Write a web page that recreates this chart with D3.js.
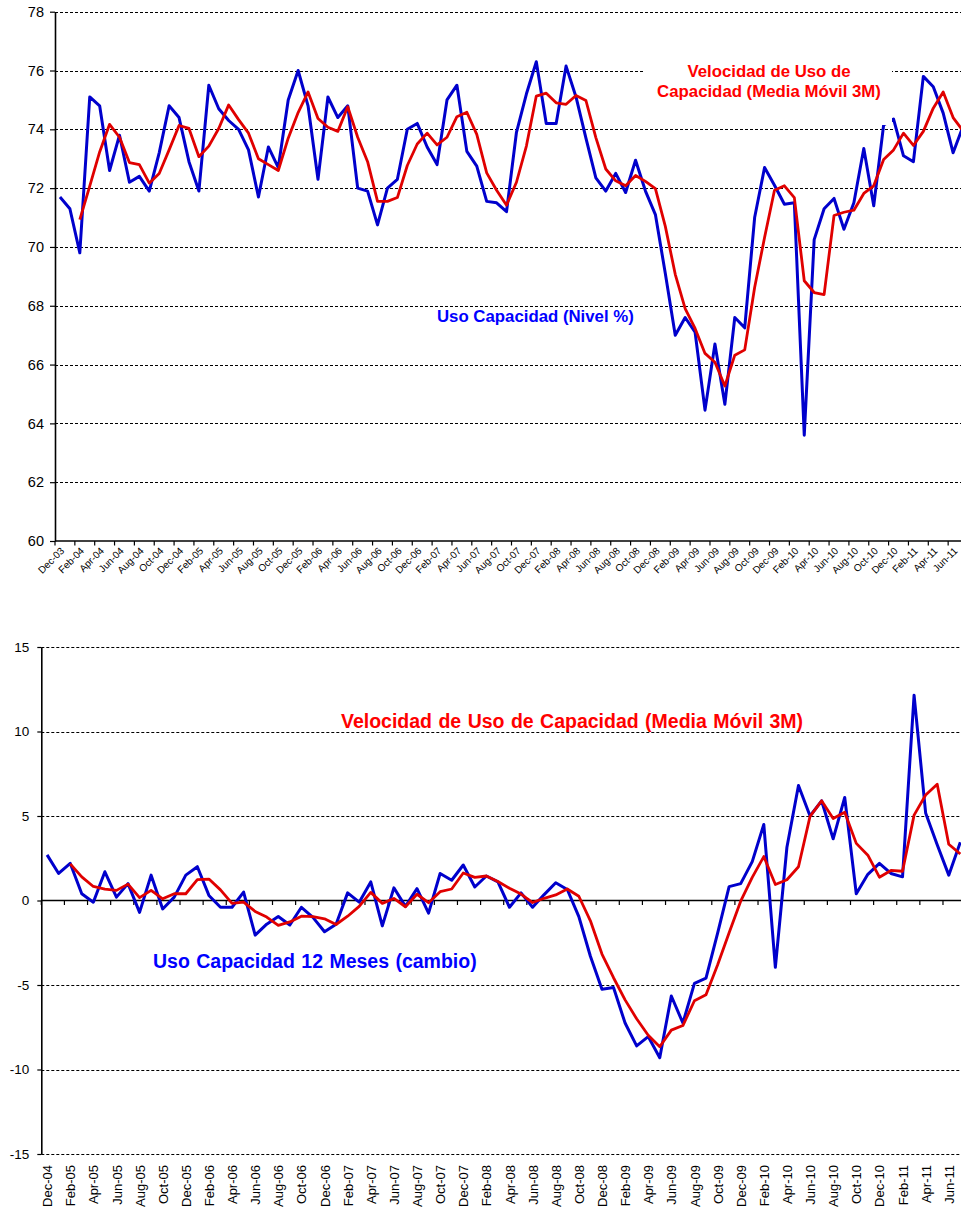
<!DOCTYPE html>
<html>
<head>
<meta charset="utf-8">
<script src="https://cdn.jsdelivr.net/npm/d3@7"></script>
<style>
  html, body { margin: 0; padding: 0; background: #fff; }
  svg { display: block; }
</style>
</head>
<body>
<svg id="chart" width="961" height="1208"></svg>
<script>
// ---------- DATA ----------
const months = [
  "Dec-03",
  "Jan-04","Feb-04","Mar-04","Apr-04","May-04","Jun-04","Jul-04","Aug-04","Sep-04","Oct-04","Nov-04","Dec-04",
  "Jan-05","Feb-05","Mar-05","Apr-05","May-05","Jun-05","Jul-05","Aug-05","Sep-05","Oct-05","Nov-05","Dec-05",
  "Jan-06","Feb-06","Mar-06","Apr-06","May-06","Jun-06","Jul-06","Aug-06","Sep-06","Oct-06","Nov-06","Dec-06",
  "Jan-07","Feb-07","Mar-07","Apr-07","May-07","Jun-07","Jul-07","Aug-07","Sep-07","Oct-07","Nov-07","Dec-07",
  "Jan-08","Feb-08","Mar-08","Apr-08","May-08","Jun-08","Jul-08","Aug-08","Sep-08","Oct-08","Nov-08","Dec-08",
  "Jan-09","Feb-09","Mar-09","Apr-09","May-09","Jun-09","Jul-09","Aug-09","Sep-09","Oct-09","Nov-09","Dec-09",
  "Jan-10","Feb-10","Mar-10","Apr-10","May-10","Jun-10","Jul-10","Aug-10","Sep-10","Oct-10","Nov-10","Dec-10",
  "Jan-11","Feb-11","Mar-11","Apr-11","May-11","Jun-11","Jul-11"
];

// Top panel: capacity use level (%) and its 3-month moving average
const levelValues = [
  71.7, 71.3, 69.8, 75.1, 74.8, 72.6, 73.8, 72.2, 72.4, 71.9, 73.2, 74.8,
  74.4, 72.9, 71.9, 75.5, 74.7, 74.3, 74.0, 73.3, 71.7, 73.4, 72.7, 75.0,
  76.0, 74.8, 72.3, 75.1, 74.4, 74.8, 72.0, 71.9, 70.75, 72.0, 72.3, 74.0,
  74.2, 73.4, 72.8, 75.0, 75.5, 73.25, 72.75, 71.55, 71.5, 71.2, 73.9, 75.2,
  76.3, 74.2, 74.2, 76.15, 75.1, 73.7, 72.35, 71.9, 72.5, 71.85, 72.95, 71.9,
  71.1, 69.1, 67.0, 67.6, 67.1, 64.45, 66.7, 64.65, 67.6, 67.25, 71.0, 72.7,
  72.1, 71.45, 71.5, 63.6, 70.25, 71.3, 71.65, 70.6, 71.5, 73.35, 71.4, 74.15,
  74.35, 73.1, 72.9, 75.8, 75.45, 74.55, 73.2, 74.1
];
const levelMA = [
  null, null,
  70.93, 72.07, 73.23, 74.17, 73.73, 72.87, 72.8, 72.17, 72.5, 73.3,
  74.13, 74.03, 73.07, 73.43, 74.03, 74.83, 74.33, 73.87, 73.0, 72.8, 72.6, 73.7,
  74.57, 75.27, 74.37, 74.07, 73.93, 74.77, 73.73, 72.9, 71.55, 71.55, 71.68, 72.77,
  73.5, 73.87, 73.47, 73.73, 74.43, 74.58, 73.83, 72.52, 71.93, 71.42, 72.2, 73.43,
  75.13, 75.23, 74.9, 74.85, 75.15, 74.98, 73.72, 72.65, 72.25, 72.08, 72.43, 72.23,
  71.98, 70.7, 69.07, 67.9, 67.23, 66.38, 66.08, 65.27, 66.32, 66.5, 68.62, 70.32,
  71.93, 72.08, 71.68, 68.85, 68.45, 68.38, 71.07, 71.18, 71.25, 71.82, 72.08, 72.97,
  73.3, 73.87, 73.45, 73.93, 74.72, 75.27, 74.4, 73.95
];

// Bottom panel: 12-month change and its 3-month moving average
const changeMonths = months.slice(12);   // Dec-04 .. Jul-11
const changeValues = [
  2.7, 1.6, 2.2, 0.4, -0.1, 1.7, 0.2, 1.0, -0.7, 1.5, -0.5, 0.2,
  1.5, 2.0, 0.3, -0.4, -0.4, 0.5, -2.05, -1.4, -0.95, -1.45, -0.4, -1.0,
  -1.85, -1.4, 0.45, -0.1, 1.1, -1.5, 0.75, -0.35, 0.7, -0.75, 1.6, 1.2,
  2.1, 0.8, 1.45, 1.1, -0.4, 0.45, -0.4, 0.35, 1.05, 0.65, -0.95, -3.3,
  -5.25, -5.15, -7.25, -8.6, -8.05, -9.3, -5.65, -7.25, -4.9, -4.6, -1.95, 0.82,
  1.0, 2.3, 4.5, -3.95, 3.15, 6.8, 5.0, 5.9, 3.65, 6.1, 0.4, 1.55,
  2.2, 1.6, 1.4, 12.15, 5.18, 3.3, 1.5, 3.45
];
const changeMA = [
  null, null,
  2.17, 1.4, 0.83, 0.67, 0.6, 0.97, 0.17, 0.6, 0.1, 0.4,
  0.4, 1.23, 1.27, 0.63, -0.17, -0.1, -0.65, -0.98, -1.47, -1.27, -0.93, -0.95,
  -1.08, -1.42, -0.93, -0.35, 0.48, -0.17, 0.12, -0.37, 0.37, -0.13, 0.52, 0.68,
  1.63, 1.37, 1.45, 1.12, 0.72, 0.38, -0.12, 0.13, 0.33, 0.68, 0.25, -1.2,
  -3.17, -4.57, -5.88, -7.0, -7.97, -8.65, -7.67, -7.4, -5.93, -5.58, -3.82, -1.91,
  -0.04, 1.37, 2.6, 0.95, 1.23, 2.0, 4.98, 5.9, 4.85, 5.22, 3.38, 2.68,
  1.38, 1.78, 1.73, 5.05, 6.24, 6.88, 3.33, 2.75
];

const levelTicks  = [60, 62, 64, 66, 68, 70, 72, 74, 76, 78];
const changeTicks = [-15, -10, -5, 0, 5, 10, 15];

const topLabelLines = ["Velocidad de Uso de", "Capacidad (Media Móvil 3M)"];
const topBlueLabel = "Uso Capacidad (Nivel %)";
const bottomRedLabel = "Velocidad de Uso de Capacidad (Media Móvil 3M)";
const bottomBlueLabel = "Uso Capacidad 12 Meses (cambio)";

// ---------- STYLE ----------
const FONT = 'Arial, "Liberation Sans", Helvetica, sans-serif';
const BLUE_LINE = "#0000CC";
const RED_LINE = "#E00000";
const BLUE_TEXT = "#0000FF";
const RED_TEXT = "#FF0000";
const W = 961;

const svg = d3.select("#chart");

function drawPanel(cfg) {
  const g = svg.append("g");
  const x = d3.scaleBand().domain(cfg.cats).range([cfg.left, cfg.right]).paddingInner(0).paddingOuter(0);
  const y = d3.scaleLinear().domain(cfg.yDomain).range([cfg.bottom, cfg.top]);
  const cx = d => x(d) + x.bandwidth() / 2;

  // dashed gridlines
  g.append("g").selectAll("line")
    .data(cfg.yTicks.filter(t => !cfg.solidAt.includes(t)))
    .join("line")
    .attr("x1", cfg.left).attr("x2", W)
    .attr("y1", d => Math.round(y(d)) + 0.5).attr("y2", d => Math.round(y(d)) + 0.5)
    .attr("stroke", "#000").attr("stroke-width", 1).attr("stroke-dasharray", "3,2");

  // y axis
  const yAxis = d3.axisLeft(y).tickValues(cfg.yTicks).tickSize(cfg.yTickSize)
    .tickPadding(cfg.yPad).tickSizeOuter(0).tickFormat(d => String(d));
  const ya = g.append("g").attr("transform", `translate(${cfg.left},0)`).call(yAxis);
  ya.select(".domain").attr("stroke", "#000").attr("stroke-width", 1.6);
  ya.selectAll(".tick line").attr("stroke", "#000").attr("stroke-width", 1.2);
  ya.selectAll(".tick text").attr("font-family", FONT).attr("font-size", cfg.yFont).attr("fill", "#000");

  // category axis line + ticks at band boundaries (every 2 months)
  const axY = y(cfg.axisAt);
  g.append("line").attr("x1", cfg.left).attr("x2", W)
    .attr("y1", axY).attr("y2", axY).attr("stroke", "#000").attr("stroke-width", 1.6);
  const tickCats = cfg.cats.filter((d, i) => i % 2 === 0);
  g.append("g").selectAll("line").data(tickCats).join("line")
    .attr("x1", d => x(d)).attr("x2", d => x(d))
    .attr("y1", axY).attr("y2", axY + 4.5)
    .attr("stroke", "#000").attr("stroke-width", 1.2);

  // category labels
  const labelCats = cfg.cats.filter((d, i) => i % 2 === 0 && i <= cfg.lastLabelIndex);
  g.append("g").selectAll("text").data(labelCats).join("text")
    .attr("transform", d => `translate(${cx(d) + cfg.labDx},${cfg.labY}) rotate(${cfg.labRot})`)
    .attr("text-anchor", "end")
    .attr("dy", "0.35em")
    .attr("font-family", FONT).attr("font-size", cfg.xFont).attr("fill", "#000")
    .text(d => d);

  // lines
  const line = d3.line()
    .defined(d => d.v != null)
    .x(d => cx(d.c)).y(d => y(d.v));
  const blue = cfg.cats.map((c, i) => ({ c, v: cfg.blue[i] }));
  const red = cfg.cats.map((c, i) => ({ c, v: cfg.red[i] }));
  g.append("path").datum(blue).attr("d", line)
    .attr("fill", "none").attr("stroke", BLUE_LINE).attr("stroke-width", 3).attr("stroke-linejoin", "round");
  g.append("path").datum(red).attr("d", line)
    .attr("fill", "none").attr("stroke", RED_LINE).attr("stroke-width", 2.8).attr("stroke-linejoin", "round");
  return g;
}

// ---------- TOP PANEL ----------
const topG = drawPanel({
  cats: months, left: 55, right: 968, top: 11.7, bottom: 541,
  yDomain: [60, 78], yTicks: levelTicks, solidAt: [60], axisAt: 60,
  yTickSize: 5, yPad: 6, yFont: "14.5px",
  blue: levelValues, red: levelMA,
  labY: 549, labDx: 2.5, labRot: -45, xFont: "10px", lastLabelIndex: 90
});

// white label box over the top chart (as in the original)
topG.append("rect").attr("x", 645).attr("y", 45).attr("width", 247).attr("height", 80).attr("fill", "#fff");
topG.append("text")
  .attr("x", 769).attr("font-family", FONT).attr("font-weight", "bold").attr("font-size", "16.8px")
  .attr("fill", RED_TEXT).attr("text-anchor", "middle")
  .selectAll("tspan").data(topLabelLines).join("tspan")
  .attr("x", 769).attr("y", (d, i) => 77 + i * 20).text(d => d);
topG.append("text")
  .attr("x", 437).attr("y", 321.5)
  .attr("font-family", FONT).attr("font-weight", "bold").attr("font-size", "16.8px")
  .attr("fill", BLUE_TEXT).text(topBlueLabel);

// ---------- BOTTOM PANEL ----------
const botG = drawPanel({
  cats: changeMonths, left: 41.3, right: 966.1, top: 647, bottom: 1154,
  yDomain: [-15, 15], yTicks: changeTicks, solidAt: [0], axisAt: 0,
  yTickSize: 4, yPad: 8, yFont: "13.5px",
  blue: changeValues, red: changeMA,
  labY: 1165, labDx: 0.5, labRot: -90, xFont: "13px", lastLabelIndex: 78
});
botG.append("text")
  .attr("x", 341).attr("y", 727.5)
  .attr("font-family", FONT).attr("font-weight", "bold").attr("font-size", "19.5px")
  .attr("word-spacing", "1px")
  .attr("fill", RED_TEXT).text(bottomRedLabel);
botG.append("text")
  .attr("x", 153).attr("y", 968)
  .attr("font-family", FONT).attr("font-weight", "bold").attr("font-size", "19.5px")
  .attr("word-spacing", "1px")
  .attr("fill", BLUE_TEXT).text(bottomBlueLabel);
</script>
</body>
</html>
